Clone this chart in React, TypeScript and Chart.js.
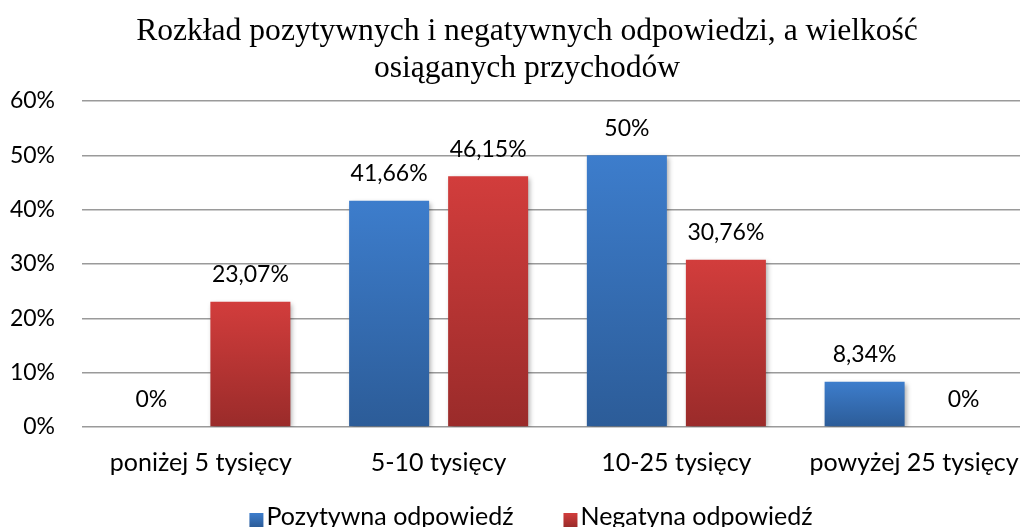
import React, { useEffect, useRef } from 'react';
import { Chart, registerables } from 'chart.js';

Chart.register(...registerables);

const categories = ['poniżej 5 tysięcy', '5-10 tysięcy', '10-25 tysięcy', 'powyżej 25 tysięcy'];
const positiveValues = [0, 41.66, 50, 8.34];
const negativeValues = [23.07, 46.15, 30.76, 0];
const seriesNames = ['Pozytywna odpowiedź', 'Negatyna odpowiedź'];
const yTicks = [0, 10, 20, 30, 40, 50, 60];
const titleLines = ['Rozkład pozytywnych i negatywnych odpowiedzi, a wielkość', 'osiąganych przychodów'];

const BLUE = ['#3d7dcc', '#2c5c98'];
const RED = ['#d23d3c', '#9a2b2a'];
const SANS = 'Lato';
const NUM_SIZE = 23;
const TEXT_SIZE = 25;

function barGradient(colors: string[]) {
  return (ctx: any) => {
    const chart = ctx.chart;
    if (ctx.type !== 'data' || !chart.chartArea || !chart.scales.y) return colors[0];
    const y = chart.scales.y;
    const v = ctx.raw as number;
    const top = y.getPixelForValue(v);
    const bottom = y.getPixelForValue(0);
    if (Math.abs(bottom - top) < 1) return colors[0];
    const g = chart.ctx.createLinearGradient(0, top, 0, bottom);
    g.addColorStop(0, colors[0]);
    g.addColorStop(1, colors[1]);
    return g;
  };
}

const shadowPlugin = {
  id: 'barShadow',
  beforeDatasetsDraw(chart: any) {
    const c = chart.ctx;
    c.save();
    c.shadowColor = 'rgba(0,0,0,0.35)';
    c.shadowBlur = 5;
    c.shadowOffsetX = 2;
    c.shadowOffsetY = 2;
  },
  afterDatasetsDraw(chart: any) {
    chart.ctx.restore();
  },
};

const labelsPlugin = {
  id: 'valueLabels',
  afterDraw(chart: any) {
    const c = chart.ctx;
    c.save();
    c.font = `${NUM_SIZE}px ${SANS}`;
    c.fillStyle = '#000';
    c.textAlign = 'center';
    c.textBaseline = 'middle';
    chart.data.datasets.forEach((ds: any, di: number) => {
      const meta = chart.getDatasetMeta(di);
      meta.data.forEach((bar: any, i: number) => {
        const v = ds.data[i] as number;
        const text = String(v).replace('.', ',') + '%';
        c.fillText(text, bar.x, bar.y - 27);
      });
    });
    // legend
    c.font = `${TEXT_SIZE}px ${SANS}`;
    const colors = [BLUE, RED];
    const box = 14;
    const gap = 3;
    const itemGap = 50;
    const widths = seriesNames.map((n) => c.measureText(n).width);
    const total = widths.reduce((a, w) => a + box + gap + w, 0) + itemGap * (seriesNames.length - 1);
    let x = chart.width / 2 + 4 - total / 2;
    const yc = chart.chartArea.bottom + 90;
    c.textAlign = 'left';
    seriesNames.forEach((n, i) => {
      const g = c.createLinearGradient(0, yc - box / 2 + 3, 0, yc + box / 2 + 3);
      g.addColorStop(0, colors[i][0]);
      g.addColorStop(1, colors[i][1]);
      c.fillStyle = g;
      c.fillRect(x, yc - box / 2 + 3, box, box);
      c.fillStyle = '#000';
      c.fillText(n, x + box + gap, yc);
      x += box + gap + widths[i] + itemGap;
    });
    c.restore();
  },
};

export default function App() {
  const ref = useRef<HTMLCanvasElement | null>(null);
  useEffect(() => {
    if (!ref.current) return;
    const chart = new Chart(ref.current, {
      type: 'bar',
      data: {
        labels: categories,
        datasets: [
          {
            label: seriesNames[0],
            data: positiveValues,
            backgroundColor: barGradient(BLUE) as any,
            categoryPercentage: 0.833,
            barPercentage: 0.808,
          },
          {
            label: seriesNames[1],
            data: negativeValues,
            backgroundColor: barGradient(RED) as any,
            categoryPercentage: 0.833,
            barPercentage: 0.808,
          },
        ],
      },
      options: {
        responsive: false,
        animation: false,
        devicePixelRatio: 1,
        layout: { padding: { left: 0, right: 0, top: 0, bottom: 49 } },
        scales: {
          x: {
            grid: { display: false },
            border: { display: false },
            ticks: { font: { family: SANS, size: TEXT_SIZE }, color: '#000', padding: 13 },
          },
          y: {
            min: 0,
            max: 60,
            afterFit(scale: any) {
              scale.width = 82;
            },
            afterBuildTicks(scale: any) {
              scale.ticks = yTicks.map((v) => ({ value: v }));
            },
            grid: { color: '#9a9a9a', lineWidth: 1.6, drawTicks: false },
            border: { display: false },
            ticks: {
              font: { family: SANS, size: NUM_SIZE },
              color: '#000',
              padding: 27,
              callback: (v: any) => v + '%',
            },
          },
          yRight: {
            position: 'right',
            display: true,
            min: 0,
            max: 60,
            afterFit(scale: any) {
              scale.width = 21;
            },
            grid: { display: false, drawTicks: false },
            border: { display: false },
            ticks: { display: false },
          },
        },
        plugins: {
          legend: { display: false },
          tooltip: { enabled: false },
          title: {
            display: true,
            text: titleLines,
            color: '#000',
            font: { family: 'Liberation Serif', size: 31.6, weight: 'normal', lineHeight: 37 / 31.6 },
            padding: { top: 13, bottom: 14 },
          },
        },
      },
      plugins: [shadowPlugin, labelsPlugin],
    });
    return () => chart.destroy();
  }, []);
  return (
    <div style={{ position: 'absolute', left: 0, top: 0, width: 1020, height: 527, overflow: 'hidden', background: '#fff' }}>
      <canvas ref={ref} width={1054} height={540} style={{ display: 'block' }} />
    </div>
  );
}
